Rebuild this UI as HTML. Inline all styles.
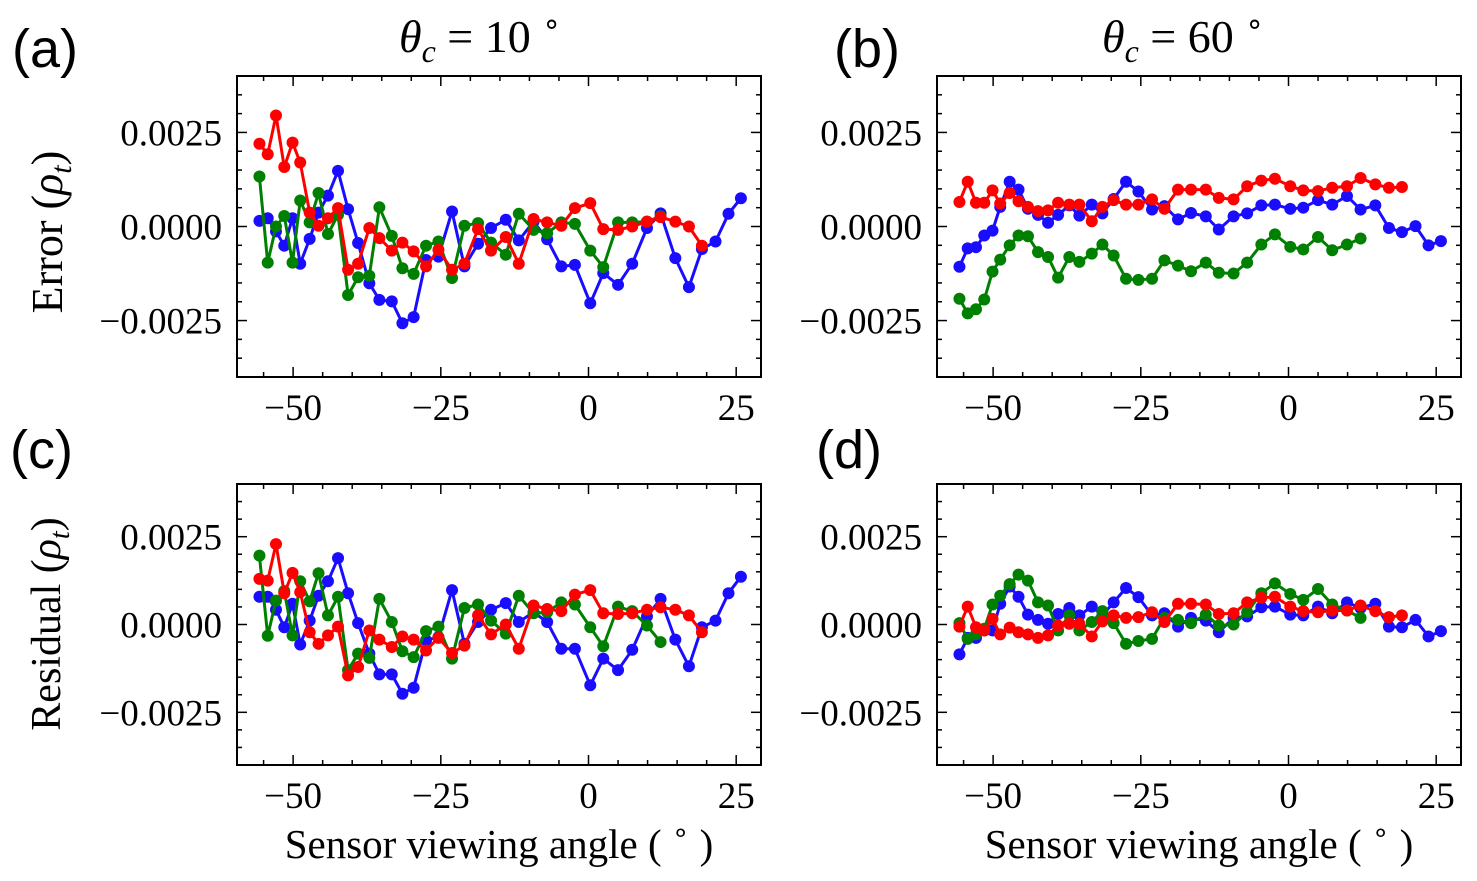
<!DOCTYPE html>
<html><head><meta charset="utf-8"><style>
html,body{margin:0;padding:0;background:#fff;}
svg{display:block;font-family:"Liberation Serif",serif;}
.pl{font-family:"Liberation Sans",sans-serif;font-size:54px;}
</style></head><body>
<svg id="chart" width="1477" height="881" viewBox="0 0 1477 881" xmlns="http://www.w3.org/2000/svg">
<text x="480" y="52" text-anchor="middle" font-size="46"><tspan font-style="italic">θ</tspan><tspan font-style="italic" font-size="32" dy="10">c</tspan><tspan dy="-10"> = 10 </tspan><tspan font-size="30" dy="-18">∘</tspan></text>
<text x="1183" y="52" text-anchor="middle" font-size="46"><tspan font-style="italic">θ</tspan><tspan font-style="italic" font-size="32" dy="10">c</tspan><tspan dy="-10"> = 60 </tspan><tspan font-size="30" dy="-18">∘</tspan></text>
<text class="pl" x="12" y="67">(a)</text>
<text class="pl" x="834" y="67">(b)</text>
<text class="pl" x="10" y="468">(c)</text>
<text class="pl" x="816" y="468">(d)</text>
<text transform="translate(62,232) rotate(-90)" text-anchor="middle" font-size="44">Error  (<tspan font-style="italic">ρ</tspan><tspan font-style="italic" font-size="30" dy="9">t</tspan><tspan dy="-9">)</tspan></text>
<text transform="translate(60,624) rotate(-90)" text-anchor="middle" font-size="42">Residual (<tspan font-style="italic">ρ</tspan><tspan font-style="italic" font-size="28" dy="9">t</tspan><tspan dy="-9">)</tspan></text>
<text x="499" y="858" text-anchor="middle" font-size="41">Sensor viewing angle ( <tspan font-size="28" dy="-16">∘</tspan><tspan dy="16"> )</tspan></text>
<text x="1199" y="858" text-anchor="middle" font-size="41">Sensor viewing angle ( <tspan font-size="28" dy="-16">∘</tspan><tspan dy="16"> )</tspan></text>
<g id="plots"></g>
</svg>
<script>
const angles = [-55.7,-54.3,-52.9,-51.5,-50.1,-48.8,-47.2,-45.7,-44.1,-42.4,-40.7,-39.0,-37.1,-35.4,-33.3,-31.5,-29.6,-27.5,-25.4,-23.1,-21.0,-18.7,-16.5,-14.0,-11.8,-9.3,-7.0,-4.6,-2.3,0.3,2.5,5.0,7.4,9.9,12.2,14.7,17.0,19.2,21.5,23.7,25.8];
// values in units of 1e-3
const aBlue = [0.15,0.22,-0.13,-0.51,0.22,-0.99,-0.33,0.37,0.82,1.48,0.46,-0.44,-1.51,-1.95,-1.99,-2.57,-2.41,-0.89,-0.80,0.40,-1.06,-0.46,-0.04,0.18,-0.37,0.13,-0.34,-1.06,-1.02,-2.04,-1.24,-1.55,-0.99,-0.04,0.35,-0.84,-1.61,-0.60,-0.40,0.34,0.75];
const aRed = [2.20,1.92,2.95,1.58,2.23,1.70,0.37,0.02,0.22,0.49,-1.15,-0.99,-0.04,-0.31,-0.64,-0.43,-0.66,-1.06,-0.62,-1.15,-0.99,-0.07,-0.64,-0.28,-0.99,0.20,0.11,0.02,0.49,0.62,-0.07,-0.09,0.00,0.13,0.25,0.13,0.00,-0.51];
const aGreen = [1.33,-0.96,0.00,0.28,-0.96,0.69,0.11,0.89,-0.20,0.31,-1.82,-1.35,-1.31,0.51,-0.25,-1.11,-1.26,-0.51,-0.40,-1.37,0.02,0.09,-0.43,-0.75,0.34,-0.09,-0.18,0.11,0.07,-0.64,-1.08,0.11,0.11,0.13,0.27];
const bBlue = [-1.07,-0.58,-0.55,-0.24,-0.11,0.52,1.19,0.98,0.47,0.31,0.10,0.31,0.56,0.29,0.58,0.35,0.73,1.19,0.93,0.45,0.54,0.19,0.36,0.27,-0.08,0.27,0.35,0.56,0.58,0.47,0.50,0.70,0.58,0.81,0.45,0.56,-0.04,-0.15,0.01,-0.50,-0.39];
const bRed = [0.65,1.19,0.63,0.63,0.96,0.61,0.89,0.67,0.52,0.41,0.43,0.63,0.58,0.58,0.14,0.52,0.70,0.58,0.58,0.72,0.47,0.98,0.98,0.98,0.76,0.72,1.07,1.22,1.27,1.07,0.96,0.94,1.03,1.07,1.29,1.12,1.03,1.05];
const bGreen = [-1.92,-2.31,-2.20,-1.94,-1.20,-0.88,-0.50,-0.24,-0.26,-0.68,-0.81,-1.36,-0.81,-0.94,-0.72,-0.48,-0.77,-1.39,-1.42,-1.39,-0.90,-1.04,-1.19,-0.96,-1.23,-1.25,-0.96,-0.48,-0.21,-0.54,-0.61,-0.28,-0.63,-0.48,-0.32];
const cBlue = [0.79,0.79,0.42,-0.08,0.59,-0.57,0.11,0.82,1.23,1.89,0.89,0.04,-0.83,-1.42,-1.42,-1.97,-1.80,-0.45,-0.36,0.98,-0.55,0.07,0.42,0.61,0.07,0.35,0.07,-0.69,-0.69,-1.73,-0.97,-1.30,-0.72,0.23,0.73,-0.43,-1.19,-0.08,0.11,0.89,1.36];
const cRed = [1.30,1.25,2.29,0.89,1.47,0.92,-0.22,-0.55,-0.31,-0.06,-1.45,-1.21,-0.17,-0.43,-0.64,-0.34,-0.43,-0.74,-0.38,-0.81,-0.60,0.26,-0.28,0.00,-0.69,0.54,0.44,0.38,0.85,0.98,0.32,0.30,0.32,0.42,0.49,0.42,0.26,-0.22];
const cGreen = [1.96,-0.32,0.68,0.95,-0.31,1.23,0.66,1.46,0.26,0.79,-1.30,-0.83,-0.95,0.73,0.07,-0.76,-0.93,-0.19,-0.06,-0.97,0.47,0.57,0.11,-0.26,0.82,0.32,0.35,0.63,0.57,-0.08,-0.62,0.51,0.38,-0.03,-0.50];
const dBlue = [-0.85,-0.38,-0.38,-0.17,-0.17,0.59,1.08,0.79,0.28,0.13,0.02,0.30,0.47,0.26,0.51,0.26,0.63,1.04,0.78,0.26,0.32,-0.06,0.19,0.11,-0.22,0.19,0.23,0.49,0.51,0.28,0.26,0.51,0.32,0.63,0.47,0.59,-0.06,-0.08,0.13,-0.34,-0.19];
const dRed = [-0.06,0.51,-0.08,-0.17,0.16,-0.28,-0.09,-0.22,-0.28,-0.38,-0.31,-0.03,0.02,0.02,-0.34,0.09,0.26,0.19,0.21,0.35,0.07,0.59,0.59,0.57,0.30,0.32,0.63,0.76,0.79,0.51,0.38,0.35,0.40,0.40,0.54,0.38,0.21,0.26];
const dGreen = [0.04,-0.41,-0.28,-0.12,0.57,0.82,1.15,1.42,1.25,0.63,0.54,-0.17,0.26,-0.17,0.07,0.38,0.04,-0.55,-0.47,-0.41,0.19,0.13,0.04,0.28,-0.03,0.00,0.35,0.89,1.17,0.87,0.70,1.01,0.57,0.40,0.19];
const xTicks = [-50,-25,0,25];
const yTicks = [-2.5,0,2.5];
const yTickLabels = ["−0.0025","0.0000","0.0025"];

const NS = "http://www.w3.org/2000/svg";
const root = document.getElementById('plots');
function mk(tag, attrs, parent){const e=document.createElementNS(NS,tag);for(const k in attrs)e.setAttribute(k,attrs[k]);(parent||root).appendChild(e);return e;}
const panels = [
 {id:'a',L:237,R:761,T:76,B:377,s:[aBlue,aGreen,aRed]},
 {id:'b',L:937,R:1461,T:76,B:377,s:[bBlue,bGreen,bRed]},
 {id:'c',L:237,R:761,T:484,B:765,s:[cBlue,cGreen,cRed]},
 {id:'d',L:937,R:1461,T:484,B:765,s:[dBlue,dGreen,dRed]}];
const colors=['#1a0dff','#008000','#ff0000'];
const names=['blue','green','red'];
const X0=-59.5,X1=29.2,Y0=-4,Y1=4;
panels.forEach(p=>{
 const g=mk('g',{});
 
 
 const xs=v=>p.L+(v-X0)/(X1-X0)*(p.R-p.L);
 const ys=v=>p.B-(v-Y0)/(Y1-Y0)*(p.B-p.T);
 for(let v=-3.5;v<=3.51;v+=0.5){const y=ys(v);const major=Math.abs(v/2.5-Math.round(v/2.5))<1e-6;const len=major?10:5;
  mk('line',{x1:p.L,x2:p.L+len,y1:y,y2:y,stroke:'#000','stroke-width':1.5},g);
  mk('line',{x1:p.R,x2:p.R-len,y1:y,y2:y,stroke:'#000','stroke-width':1.5},g);}
 for(let v=-55;v<=25;v+=5){const x=xs(v);const major=v%25===0;const len=major?10:5;
  mk('line',{x1:x,x2:x,y1:p.B,y2:p.B-len,stroke:'#000','stroke-width':1.5},g);
  mk('line',{x1:x,x2:x,y1:p.T,y2:p.T+len,stroke:'#000','stroke-width':1.5},g);}
 xTicks.forEach(v=>{const t=mk('text',{x:xs(v),y:p.B+43,'text-anchor':'middle','font-size':37},g);t.textContent=v<0?'−'+(-v):String(v);
  
  });
 yTicks.forEach((v,i)=>{const t=mk('text',{x:p.L-15,y:ys(v)+13,'text-anchor':'end','font-size':37},g);t.textContent=yTickLabels[i];
  
  });
 p.s.forEach((arr,si)=>{
  const sg=mk('g',{},g);
  
  
  const pts=arr.map((v,i)=>xs(angles[i]).toFixed(1)+','+ys(v).toFixed(1)).join(' ');
  mk('polyline',{points:pts,fill:'none',stroke:colors[si],'stroke-width':3,'stroke-linejoin':'round'},sg);
  arr.forEach((v,i)=>{const c=mk('circle',{cx:xs(angles[i]),cy:ys(v),r:6,fill:colors[si]},sg);
   
   });
 });
 const fr=mk('rect',{x:p.L,y:p.T,width:p.R-p.L,height:p.B-p.T,fill:'none',stroke:'#000','stroke-width':2},g);
 
 
});
</script>
</body></html>
